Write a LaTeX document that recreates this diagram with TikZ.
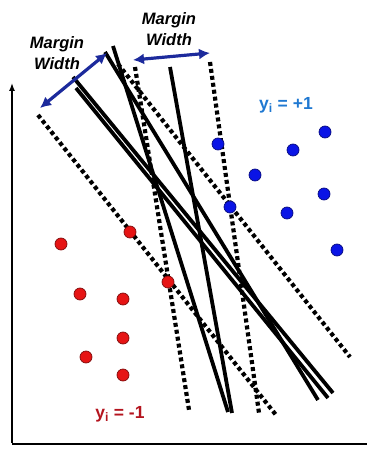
\documentclass[tikz,border=0pt]{standalone}
\usepackage{fontspec}
\setmainfont{Liberation Sans}
\usetikzlibrary{arrows.meta}
\definecolor{posblue}{HTML}{1F78D1}
\definecolor{negred}{HTML}{B4141E}
\definecolor{dotblue}{HTML}{0A14E6}
\definecolor{dotred}{HTML}{E61414}
\definecolor{marginblue}{HTML}{1C2A9C}

\begin{document}
\begin{tikzpicture}[x=1pt,y=-1pt,
  hyper/.style={line width=3.8pt},
  marginline/.style={line width=4.2pt, dash pattern=on 4pt off 3pt},
  widtharrow/.style={line width=3.2pt, marginblue, {Latex[length=11pt,width=11pt]}-{Latex[length=11pt,width=11pt]}},
  posdot/.style={circle, fill=dotblue, draw=dotblue!55!black, line width=0.7pt, minimum size=12pt, inner sep=0pt},
  negdot/.style={circle, fill=dotred, draw=dotred!55!black, line width=0.7pt, minimum size=12pt, inner sep=0pt},
  lbl/.style={font=\fontsize{16.5}{20.5}\selectfont\bfseries\itshape, align=center},
  cls/.style={font=\fontsize{17.5}{20}\selectfont\bfseries}]
  \useasboundingbox (0,0) rectangle (368,449);

  % axes
  \coordinate (origin) at (12,444);
  \coordinate (ytop) at (12,83);
  \coordinate (xend) at (367,444);
  \draw[line width=2pt] (origin) -- (xend);
  \draw[line width=1.4pt, -{Latex[length=8pt,width=6pt]}] ([yshift=1pt]origin) -- (ytop);

  % margin boundaries
  \coordinate (wa1) at (38,115);  \coordinate (wa2) at (276,415);
  \coordinate (wb1) at (118,64);  \coordinate (wb2) at (350,357);
  \coordinate (sa1) at (135,67);  \coordinate (sa2) at (189,410);
  \coordinate (sb1) at (210,62);  \coordinate (sb2) at (259,413);
  \draw[marginline] (wa1) -- (wa2);
  \draw[marginline] (wb1) -- (wb2);
  \draw[marginline] (sa1) -- (sa2);
  \draw[marginline] (sb1) -- (sb2);

  % separating lines
  \coordinate (h1a) at (73,77);   \coordinate (h1b) at (333,393);
  \coordinate (h2a) at (76,88);   \coordinate (h2b) at (328,398);
  \coordinate (h3a) at (105,52);  \coordinate (h3b) at (318,400);
  \coordinate (h4a) at (113,46);  \coordinate (h4b) at (228,412);
  \coordinate (h5a) at (170,67);  \coordinate (h5b) at (232,413);
  \foreach \h in {1,...,5}
    \draw[hyper] (h\h a) -- (h\h b);

  % margin widths
  \coordinate (mwa1) at (40,108);  \coordinate (mwa2) at (107,53);
  \coordinate (mwb1) at (133,60);  \coordinate (mwb2) at (210,53);
  \draw[widtharrow] (mwa1) -- (mwa2);
  \draw[widtharrow] (mwb1) -- (mwb2);
  \node[lbl] (mwlabelA) at (57,53) {Margin\\Width};
  \node[lbl] (mwlabelB) at (169,29) {Margin\\Width};

  % class +1
  \node[posdot] (p1) at (218,144) {};
  \node[posdot] (p2) at (325,132) {};
  \node[posdot] (p3) at (293,150) {};
  \node[posdot] (p4) at (255,175) {};
  \node[posdot] (p5) at (324,194) {};
  \node[posdot] (p6) at (287,213) {};
  \node[posdot] (p7) at (230,207) {};
  \node[posdot] (p8) at (337,250) {};
  \node[cls, text=posblue] (poslabel) at (286,105) {y\textsubscript{i} = +1};

  % class -1
  \node[negdot] (n1) at (61,244) {};
  \node[negdot] (n2) at (130,232) {};
  \node[negdot] (n3) at (168,282) {};
  \node[negdot] (n4) at (80,294) {};
  \node[negdot] (n5) at (123,299) {};
  \node[negdot] (n6) at (123,338) {};
  \node[negdot] (n7) at (86,357) {};
  \node[negdot] (n8) at (123,375) {};
  \node[cls, text=negred] (neglabel) at (120,414) {y\textsubscript{i} = -1};
\end{tikzpicture}
\end{document}
